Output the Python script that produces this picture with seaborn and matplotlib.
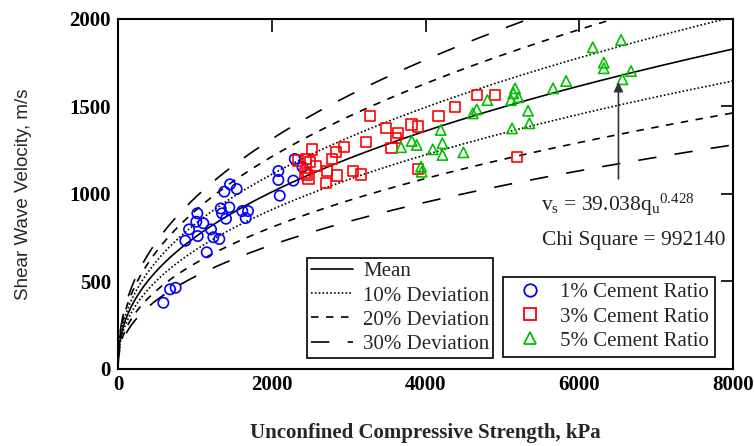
import numpy as np
import pandas as pd
import matplotlib
matplotlib.use("Agg")
import matplotlib.pyplot as plt
from matplotlib.lines import Line2D
import seaborn as sns

# ---------------- data ----------------
c1_x = [590, 677, 750, 1154, 876, 924, 1037, 1019, 1032, 1110, 1210, 1240, 1318, 1336,
        1353, 1405, 1448, 1383, 1457, 1544, 1617, 1691, 1661, 2086, 2086, 2104, 2281,
        2300, 2400]
c1_y = [376, 453, 462, 665, 731, 796, 758, 840, 888, 831, 796, 751, 741, 916,
        888, 857, 922, 1012, 1054, 1027, 901, 901, 861, 1130, 1079, 989, 1075,
        1199, 1153]

c3_x = [2446, 2520, 2498, 2576, 2455, 2477, 2433, 2342, 2715, 2702, 2780, 2836, 2936,
        2845, 3057, 3158, 3230, 3274, 3482, 3639, 3617, 3556, 3816, 3899, 3899, 4168,
        4384, 4671, 4905, 5187]
c3_y = [1200, 1254, 1183, 1159, 1107, 1088, 1117, 1191, 1130, 1060, 1199, 1239, 1267,
        1105, 1130, 1111, 1298, 1445, 1378, 1349, 1319, 1260, 1397, 1384, 1142, 1445,
        1495, 1567, 1567, 1212]

c5_x = [6544, 6176, 6319, 6319, 6674, 6561, 5829, 5659, 5165, 5143, 5208, 5113, 4805,
        4667, 4615, 5334, 5351, 5126, 4198, 4220, 4220, 3821, 3886, 3682, 4094, 4493,
        3942, 3951]
c5_y = [1880, 1838, 1750, 1718, 1702, 1655, 1645, 1603, 1603, 1575, 1552, 1536, 1536,
        1483, 1460, 1475, 1403, 1374, 1365, 1289, 1222, 1302, 1279, 1266, 1254, 1237,
        1155, 1126]

series_names = ["1% Cement Ratio", "3% Cement Ratio", "5% Cement Ratio"]
series_colors = ["#0000FF", "#FF0000", "#00C000"]
series_markers = ["o", "s", "^"]

# fitted relation shown on the chart: vs = A * qu^B
fit_a = 39.038
fit_b = 0.428
deviations = [0.0, 0.10, 0.20, 0.30]
dev_labels = ["Mean", "10% Deviation", "20% Deviation", "30% Deviation"]
dev_styles = ["-", (0, (1, 1.3)), (0, (4.5, 4.5)), (0, (11, 11))]

x_ticks = [0, 2000, 4000, 6000, 8000]
y_ticks = [0, 500, 1000, 1500, 2000]

# ---------------- figure ----------------
sns.set_theme(style="white")
plt.rcParams["font.family"] = ["Liberation Serif", "DejaVu Serif"]
plt.rcParams["mathtext.fontset"] = "custom"
plt.rcParams["mathtext.rm"] = "Liberation Serif"
plt.rcParams["mathtext.it"] = "Liberation Serif"

fig = plt.figure(figsize=(7.54, 4.46), dpi=100)
ax = fig.add_axes([118 / 754, 1 - 368.5 / 446, 615 / 754, 349.5 / 446])

# curves
q = np.linspace(0, 8000, 1601)
mean_v = fit_a * q ** fit_b
curve_rows = []
for d, lab in zip(deviations, dev_labels):
    signs = [1] if d == 0 else [1, -1]
    for s in signs:
        for qq, vv in zip(q, mean_v * (1 + s * d)):
            curve_rows.append({"q": qq, "v": vv, "kind": lab, "branch": f"{lab}{s}"})
curves = pd.DataFrame(curve_rows)
for d, lab, ls in zip(deviations, dev_labels, dev_styles):
    for br, sub in curves[curves["kind"] == lab].groupby("branch"):
        sns.lineplot(data=sub, x="q", y="v", ax=ax, color="black", lw=1.2,
                     linestyle=ls, legend=False, sort=False, estimator=None)

# points
pts = pd.DataFrame({
    "x": c1_x + c3_x + c5_x,
    "y": c1_y + c3_y + c5_y,
    "group": [series_names[0]] * len(c1_x) + [series_names[1]] * len(c3_x)
             + [series_names[2]] * len(c5_x),
})
for name, col, mk in zip(series_names, series_colors, series_markers):
    sub = pts[pts["group"] == name]
    sns.scatterplot(data=sub, x="x", y="y", ax=ax, marker=mk, s=55,
                    facecolors="none", edgecolor=col, linewidth=1.2, legend=False, zorder=3)

ax.set_xlim(0, 8000)
ax.set_ylim(0, 2000)
ax.set_xticks(x_ticks)
ax.set_yticks(y_ticks)
ax.set_xticklabels([str(t) for t in x_ticks], fontsize=15, fontweight="bold")
ax.set_yticklabels([str(t) for t in y_ticks], fontsize=15, fontweight="bold")
ax.tick_params(direction="in", length=9, width=1.2, top=True, right=True, pad=5, colors="black")
for sp in ax.spines.values():
    sp.set_color("black")
    sp.set_linewidth(1.5)

ax.set_xlabel("Unconfined Compressive Strength, kPa", fontsize=15, fontweight="bold", labelpad=20)
ax.set_ylabel("Shear Wave Velocity, m/s", fontsize=13.5, fontweight="normal",
              family=["Liberation Sans", "DejaVu Sans"], labelpad=27)

# arrow and annotation
ax.annotate("", xy=(6510, 1655), xytext=(6510, 1069),
            arrowprops=dict(arrowstyle="-|>", color="#333333", lw=1.2, mutation_scale=14))
ax.text(5500, 935, r"v$_\mathrm{s}$ = 39.038q$_\mathrm{u}$$^{0.428}$", fontsize=15.5,
        ha="left", va="center", color="#222222")
ax.text(5520, 735, "Chi Square = 992140", fontsize=15.5, ha="left", va="center", color="#222222")

# legends
line_handles = [Line2D([0], [0], color="black", lw=1.2, linestyle=ls) for ls in dev_styles]
leg1 = ax.legend(line_handles, dev_labels, loc="lower left", bbox_to_anchor=(0.307, 0.030),
                 fontsize=15, frameon=True, fancybox=False, edgecolor="black",
                 handlelength=2.0, labelspacing=0.22, borderpad=0.2, handletextpad=0.5,
                 borderaxespad=0)
leg1.get_frame().set_linewidth(1.2)
leg1.get_frame().set_facecolor("white")
leg1.get_frame().set_alpha(1)
ax.add_artist(leg1)

pt_handles = [Line2D([0], [0], marker=mk, color=col, markerfacecolor="none", linestyle="none",
                     markersize=9, markeredgewidth=1.3)
              for col, mk in zip(series_colors, series_markers)]
leg2 = ax.legend(pt_handles, series_names, loc="lower left", bbox_to_anchor=(0.626, 0.033),
                 fontsize=15, frameon=True, fancybox=False, edgecolor="black",
                 handlelength=2.0, labelspacing=0.22, borderpad=0.3, handletextpad=0.45,
                 borderaxespad=0)
leg2.get_frame().set_linewidth(1.2)
leg2.get_frame().set_facecolor("white")
leg2.get_frame().set_alpha(1)

fig.savefig("out.png", dpi=100)
